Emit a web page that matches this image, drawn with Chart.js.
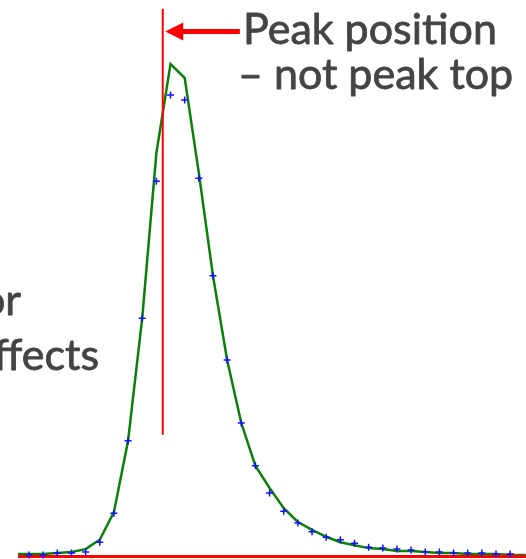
<!DOCTYPE html>
<html>
<head>
<meta charset="utf-8">
<script src="https://cdn.jsdelivr.net/npm/chart.js@4.4.1/dist/chart.umd.min.js"></script>
<style>
  html, body { margin: 0; padding: 0; background: #fff; }
  canvas { display: block; }
</style>
</head>
<body>
<canvas id="peak" width="526" height="559"></canvas>
<script>
// Chromatographic peak: measured samples (+) with fitted profile, and the
// fitted peak position marked in red. Intensity in % of fitted maximum.

const RED = '#ff0000';
const GREEN = '#0a800a';
const BLUE = '#1010ff';
const TEXT = '#444444';

// measured samples
const sampleX = [0, 1, 2, 3, 4, 5, 6, 7, 8, 9, 10, 11, 12, 13, 14, 15, 16, 17,
                 18, 19, 20, 21, 22, 23, 24, 25, 26, 27, 28, 29, 30, 31, 32, 33, 34];
const sampleY = [0.3, 0.3, 0.7, 0.7, 0.9, 2.9, 8.8, 23.5, 48.4, 76.2, 93.7, 92.7,
                 76.8, 57.0, 39.9, 27.1, 18.4, 12.9, 9.2, 6.8, 5.0, 3.9, 3.4, 2.7,
                 1.9, 1.7, 1.5, 1.3, 0.9, 0.9, 0.7, 0.7, 0.7, 0.5, 0.5];

// fitted profile
const fitX = [-0.78, 0, 1, 2, 3, 4, 5, 6, 7, 8, 9, 10, 11, 12, 13, 14, 15, 16, 17,
              18, 19, 20, 21, 22, 23, 24, 25, 26, 27, 28, 29, 30, 31, 32, 33, 34, 35.1];
const fitY = [0.5, 0.5, 0.5, 0.7, 0.9, 1.5, 3.4, 9.0, 23.5, 48.4, 81.9, 100, 97.2,
              77.9, 57.0, 39.9, 27.1, 18.4, 13.9, 9.8, 7.0, 5.4, 4.0, 2.9, 2.3,
              1.7, 1.5, 1.1, 1.1, 0.9, 0.7, 0.7, 0.5, 0.5, 0.5, 0.3, 0.3];

// fitted peak position and the extent of its marker line
const peakPos = 9.45;
const peakLine = [24.7, 111.2];
const baselineX = [-0.78, 35.2];

// arrow pointing at the peak position
const arrowFrom = 14.9;
const arrowY = 106.6;

const labelLines = ['Peak position', '\u2013 not peak top'];
const sideLines = ['or', 'ffects'];

const toPoints = (xs, ys) => xs.map((x, i) => ({ x, y: ys[i] }));

function label(ctx, text, x, y) {
    ctx.fillText(text, x, y);
    ctx.strokeText(text, x, y);
}

const annotations = {
    id: 'annotations',
    afterDatasetsDraw(chart) {
        const { ctx, scales: { x, y } } = chart;
        const tip = x.getPixelForValue(peakPos) + 2.5;
        const tail = x.getPixelForValue(arrowFrom);
        const ay = y.getPixelForValue(arrowY);

        ctx.save();
        ctx.strokeStyle = RED;
        ctx.fillStyle = RED;
        ctx.lineWidth = 5;
        ctx.beginPath();
        ctx.moveTo(tail, ay);
        ctx.lineTo(tip + 14, ay);
        ctx.stroke();
        ctx.beginPath();
        ctx.moveTo(tip, ay);
        ctx.lineTo(tip + 18, ay - 9);
        ctx.lineTo(tip + 18, ay + 9);
        ctx.closePath();
        ctx.fill();

        // size text so the first label spans its box
        ctx.font = '100px Lato';
        const size = 100 * 254 / ctx.measureText(labelLines[0]).width;
        ctx.font = size.toFixed(1) + 'px Lato';
        ctx.fillStyle = TEXT;
        ctx.strokeStyle = TEXT;
        ctx.lineWidth = 0.8;
        ctx.lineJoin = 'round';
        ctx.textBaseline = 'alphabetic';
        ctx.textAlign = 'left';
        label(ctx, labelLines[0], 243, 44);
        label(ctx, labelLines[1], 238, 89);
        ctx.textAlign = 'right';
        label(ctx, sideLines[0], 21, 315);
        label(ctx, sideLines[1], 99, 370);
        ctx.restore();
    }
};

new Chart(document.getElementById('peak'), {
    type: 'scatter',
    data: {
        datasets: [
            {
                label: 'Samples',
                data: toPoints(sampleX, sampleY),
                showLine: false,
                pointStyle: 'cross',
                pointRadius: 3.5,
                pointBorderWidth: 1.5,
                pointBorderColor: BLUE,
                order: 0,
            },
            {
                label: 'Peak position',
                data: toPoints([peakPos, peakPos], peakLine),
                showLine: true,
                borderColor: RED,
                borderWidth: 2,
                pointRadius: 0,
                order: 1,
            },
            {
                label: 'Baseline',
                data: toPoints(baselineX, [0, 0]),
                showLine: true,
                borderColor: RED,
                borderWidth: 3,
                pointRadius: 0,
                order: 2,
            },
            {
                label: 'Fit',
                data: toPoints(fitX, fitY),
                showLine: true,
                borderColor: GREEN,
                borderWidth: 2.5,
                pointRadius: 0,
                tension: 0,
                order: 3,
            },
        ]
    },
    options: {
        responsive: false,
        animation: false,
        events: [],
        layout: { padding: 0, autoPadding: false },
        plugins: { legend: { display: false }, tooltip: { enabled: false } },
        scales: {
            x: { type: 'linear', display: false, min: -2.05, max: 35.12 },
            y: { type: 'linear', display: false, min: -0.51, max: 113.0 }
        }
    },
    plugins: [annotations]
});
</script>
</body>
</html>
